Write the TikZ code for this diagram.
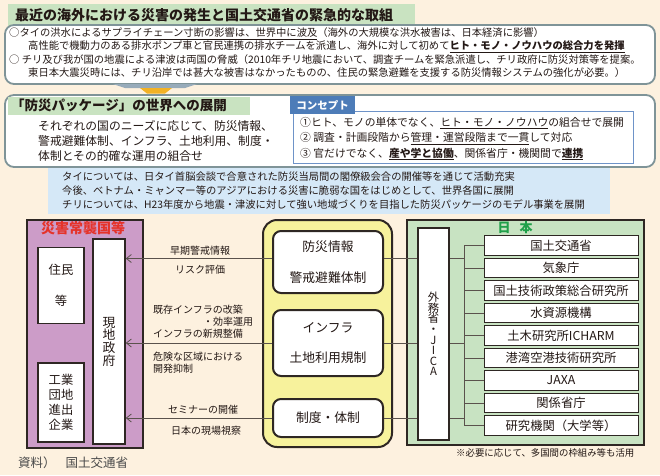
\documentclass[tikz,border=0pt]{standalone}
\usepackage{fontspec}
\setmainfont{Noto Sans CJK JP}
\usetikzlibrary{arrows.meta}
\definecolor{bg}{HTML}{FDF1DF}
\definecolor{ink}{HTML}{231815}
\definecolor{bandg}{HTML}{C9E3C1}
\definecolor{panelb}{HTML}{7F9498}
\definecolor{arrg}{HTML}{97ABBA}
\definecolor{arro}{HTML}{F2B226}
\definecolor{cblue}{HTML}{4D7CB8}
\definecolor{cline}{HTML}{6E93C8}
\definecolor{lblue}{HTML}{D5E8F7}
\definecolor{purp}{HTML}{CC9CC8}
\definecolor{yel}{HTML}{F7F29C}
\definecolor{grn}{HTML}{C8E3C2}
\definecolor{jgreen}{HTML}{20A04A}
\definecolor{jred}{HTML}{E5332A}
\definecolor{dk}{HTML}{2E2723}
\definecolor{connc}{HTML}{5A524C}
\definecolor{notec}{HTML}{4A4A4A}
\newcommand\fsz[1]{\fontsize{#1}{#1}\selectfont}
\newcommand\tightfs[2]{\fontsize{#1}{#2}\selectfont\lineskiplimit=-20pt\relax}
\newcommand\ulb[1]{\underline{\textbf{#1}}}
\newcommand\ulr[1]{\underline{#1}}
\begin{document}
\begin{tikzpicture}[x=1pt,y=-1pt,
  txt/.style={inner sep=0pt, anchor=west, text=ink},
  panel/.style={draw=panelb, line width=1.8pt, fill=white, rounded corners=9pt, inner sep=0pt},
  wbox/.style={draw=dk, line width=1.5pt, fill=white, inner sep=0pt, align=center, text=ink},
  inbox/.style={draw=dk, line width=2pt, fill=white, rounded corners=8pt, minimum width=110pt, inner sep=0pt, align=center, text=ink},
  agency/.style={draw=dk, line width=1pt, fill=white, minimum width=154pt, minimum height=19.5pt, inner sep=0pt, text=ink, font=\fsz{12.3}},
  link/.style={draw=connc, line width=0.8pt},
  arr/.style={link, -{Straight Barb[length=5pt,width=8pt]}},
  lab/.style={inner sep=0pt, text=ink, font=\fsz{10}},
]
\useasboundingbox (0,0) rectangle (660,475);
\fill[bg] (0,0) rectangle (660,475);

% ---------- top panel
\fill[bandg] (8,4) rectangle (415,26.5);
\node[panel, minimum width=650pt, minimum height=59pt] (box1) at (330,54.5) {};
\node[txt, font=\fsz{14}\bfseries] (title1) at (15,15) {最近の海外における災害の発生と国土交通省の緊急的な取組};
\begin{scope}[every node/.style={txt, font=\fsz{10.3}}]
\node (l1) at (9,34) {○タイの洪水による\ulr{サプライチェーン寸断の影響は、世界中に波及}（海外の大規模な洪水被害は、日本経済に影響）};
\node (l2) at (28,47) {高性能で機動力のある排水ポンプ車と官民連携の排水チームを派遣し、海外に対して初めて\ulb{ヒト・モノ・ノウハウの総合力を発揮}};
\node (l3) at (9,60) {○ チリ及び我が国の地震による津波は両国の脅威（2010年チリ地震において、調査チームを緊急派遣し、チリ政府に防災対策等を提案。};
\node (l4) at (28,73) {東日本大震災時には、チリ沿岸では甚大な被害はなかったものの、住民の緊急避難を支援する防災情報システムの強化が必要。）};
\end{scope}

% arrow between panels
\fill[arrg] (113,84) -- (197,84) -- (185,88) -- (125,88) -- cycle;
\fill[arro] (140,88) -- (172,88) -- (165,93.5) -- (147,93.5) -- cycle;

% ---------- second panel
\node[panel, minimum width=650pt, minimum height=72pt] (box2) at (330,131) {};
\fill[bandg] (8,96.5) rectangle (250,115);
\node[txt, font=\fsz{13.5}\bfseries] (title2) at (11,105.5) {「防災パッケージ」の世界への展開};
\begin{scope}[every node/.style={txt, font=\fsz{11.8}}]
\node (b1) at (38,126) {それぞれの国のニーズに応じて、防災情報、};
\node (b2) at (38,141) {警戒避難体制、インフラ、土地利用、制度・};
\node (b3) at (38,156) {体制とその的確な運用の組合せ};
\end{scope}
\node[draw=cline, line width=1pt, fill=white, minimum width=340pt, minimum height=52pt, inner sep=0pt] (cbox) at (463,137) {};
\node[fill=cblue, minimum width=65pt, minimum height=18pt, inner sep=0pt, text=white, font=\fsz{10.5}\bfseries] (clab) at (322.5,105) {コンセプト};
\begin{scope}[every node/.style={txt, font=\fsz{10.8}}]
\node (c1) at (300,123) {①ヒト、モノの単体でなく、\ulr{ヒト・モノ・ノウハウ}の組合せで展開};
\node (c2) at (300,138.5) {② 調査・計画段階から\ulr{管理・運営段階まで一貫}して対応};
\node (c3) at (300,154) {③ 官だけでなく、\ulb{産や学と協働}、関係省庁・機関間で\ulb{連携}};
\end{scope}

% ---------- light blue note
\node[fill=lblue, minimum width=562pt, minimum height=46pt, inner sep=0pt] (bluebox) at (329,191) {};
\begin{scope}[every node/.style={txt, font=\fsz{10.3}}]
\node (n1) at (62,177) {タイについては、日タイ首脳会談で合意された防災当局間の閣僚級会合の開催等を通じて活動充実};
\node (n2) at (62,191) {今後、ベトナム・ミャンマー等のアジアにおける災害に脆弱な国をはじめとして、世界各国に展開};
\node (n3) at (62,205) {チリについては、H23年度から地震・津波に対して強い地域づくりを目指した防災パッケージのモデル事業を展開};
\end{scope}

% ---------- left: disaster-prone countries
\node[draw=dk, line width=2pt, fill=purp, minimum width=116pt, minimum height=228pt, inner sep=0pt] (pbox) at (85,334) {};
\node[inner sep=0pt, text=jred, font=\fsz{14}\bfseries] (ptitle) at (83,228) {災害常襲国等};
\node[wbox, minimum width=46pt, minimum height=76pt, font=\tightfs{12.3}{31}] (resid) at (61,285.5) {住民\\等};
\node[wbox, minimum width=46pt, minimum height=79pt, font=\tightfs{12.3}{15}] (firms) at (61,402.5) {工業\\団地\\進出\\企業};
\node[wbox, minimum width=32pt, minimum height=205pt, font=\tightfs{12.8}{12.7}] (gov) at (109,341.5) {現\\地\\政\\府};

% ---------- middle: package
\node[draw=dk, line width=2pt, fill=yel, rounded corners=14pt, minimum width=129pt, minimum height=227pt, inner sep=0pt] (ybox) at (327.5,333.5) {};
\node[inbox, minimum height=62pt, font=\tightfs{12.8}{31}] (pk1) at (328,262) {防災情報\\警戒避難体制};
\node[inbox, minimum height=66pt, font=\tightfs{12.8}{30}] (pk2) at (328,343) {インフラ\\土地利用規制};
\node[inbox, minimum height=38pt, font=\fsz{12.8}] (pk3) at (328,418) {制度・体制};

% ---------- right: Japan
\node[draw=dk, line width=2pt, fill=grn, minimum width=237pt, minimum height=225pt, inner sep=0pt] (gbox) at (525.5,332.5) {};
\node[inner sep=0pt, text=jgreen, font=\fsz{13}\bfseries] (jtitle) at (515,228) {日\hspace{9pt}本};
\node[wbox, minimum width=31pt, minimum height=212pt, font=\tightfs{11.3}{10.6}] (jica) at (433.5,334) {外\\務\\省\\・\\J\\I\\C\\A};
\node[agency] (ag1) at (561,245.5) {国土交通省};
\node[agency] (ag2) at (561,268) {気象庁};
\node[agency] (ag3) at (561,290.5) {国土技術政策総合研究所};
\node[agency] (ag4) at (561,313) {水資源機構};
\node[agency] (ag5) at (561,335.5) {土木研究所ICHARM};
\node[agency] (ag6) at (561,358) {港湾空港技術研究所};
\node[agency] (ag7) at (561,380.5) {JAXA};
\node[agency] (ag8) at (561,403) {関係省庁};
\node[agency] (ag9) at (561,425.5) {研究機関（大学等）};
\node[txt, font=\fsz{9.4}] (fn) at (456,453) {※必要に応じて、多国間の枠組み等も活用};

% ---------- connectors
\coordinate (r1) at (0,258.5);
\coordinate (r2) at (0,343);
\coordinate (r3) at (0,418);
\coordinate (bus) at (464,0);
\draw[arr] (pk1.west |- r1) -- (gov.east |- r1);
\draw[arr] (pk2.west |- r2) -- (gov.east |- r2);
\draw[arr] (pk3.west |- r3) -- (gov.east |- r3);
\draw[link] (pk1.east |- r1) -- (jica.west |- r1);
\draw[link] (pk2.east |- r2) -- (jica.west |- r2);
\draw[link] (pk3.east |- r3) -- (jica.west |- r3);
\draw[link] (jica.east |- r1) -- (bus |- r1);
\draw[link] (jica.east |- r2) -- (bus |- r2);
\draw[link] (jica.east |- r3) -- (bus |- r3);
\draw[link] (bus |- ag1) -- (bus |- ag9);
\foreach \i in {1,...,9} {\draw[link] (bus |- ag\i) -- (ag\i.west);}

% connector labels
\node[lab] (e1) at (200,250.5) {早期警戒情報};
\node[lab] (e2) at (200,270) {リスク評価};
\node[lab, anchor=west] (i1) at (153,310) {既存インフラの改築};
\node[lab, anchor=west] (i2) at (203,322) {・効率運用};
\node[lab, anchor=west] (i3) at (153,334) {インフラの新規整備};
\node[lab, anchor=west] (i4) at (153,357) {危険な区域における};
\node[lab, anchor=west] (i5) at (153,369) {開発抑制};
\node[lab] (s1) at (203,409.5) {セミナーの開催};
\node[lab] (s2) at (206,431) {日本の現場視察};

\node[txt, text=notec, font=\fsz{12.5}] (src) at (18,463) {資料）\hspace{10pt}国土交通省};
\end{tikzpicture}
\end{document}
